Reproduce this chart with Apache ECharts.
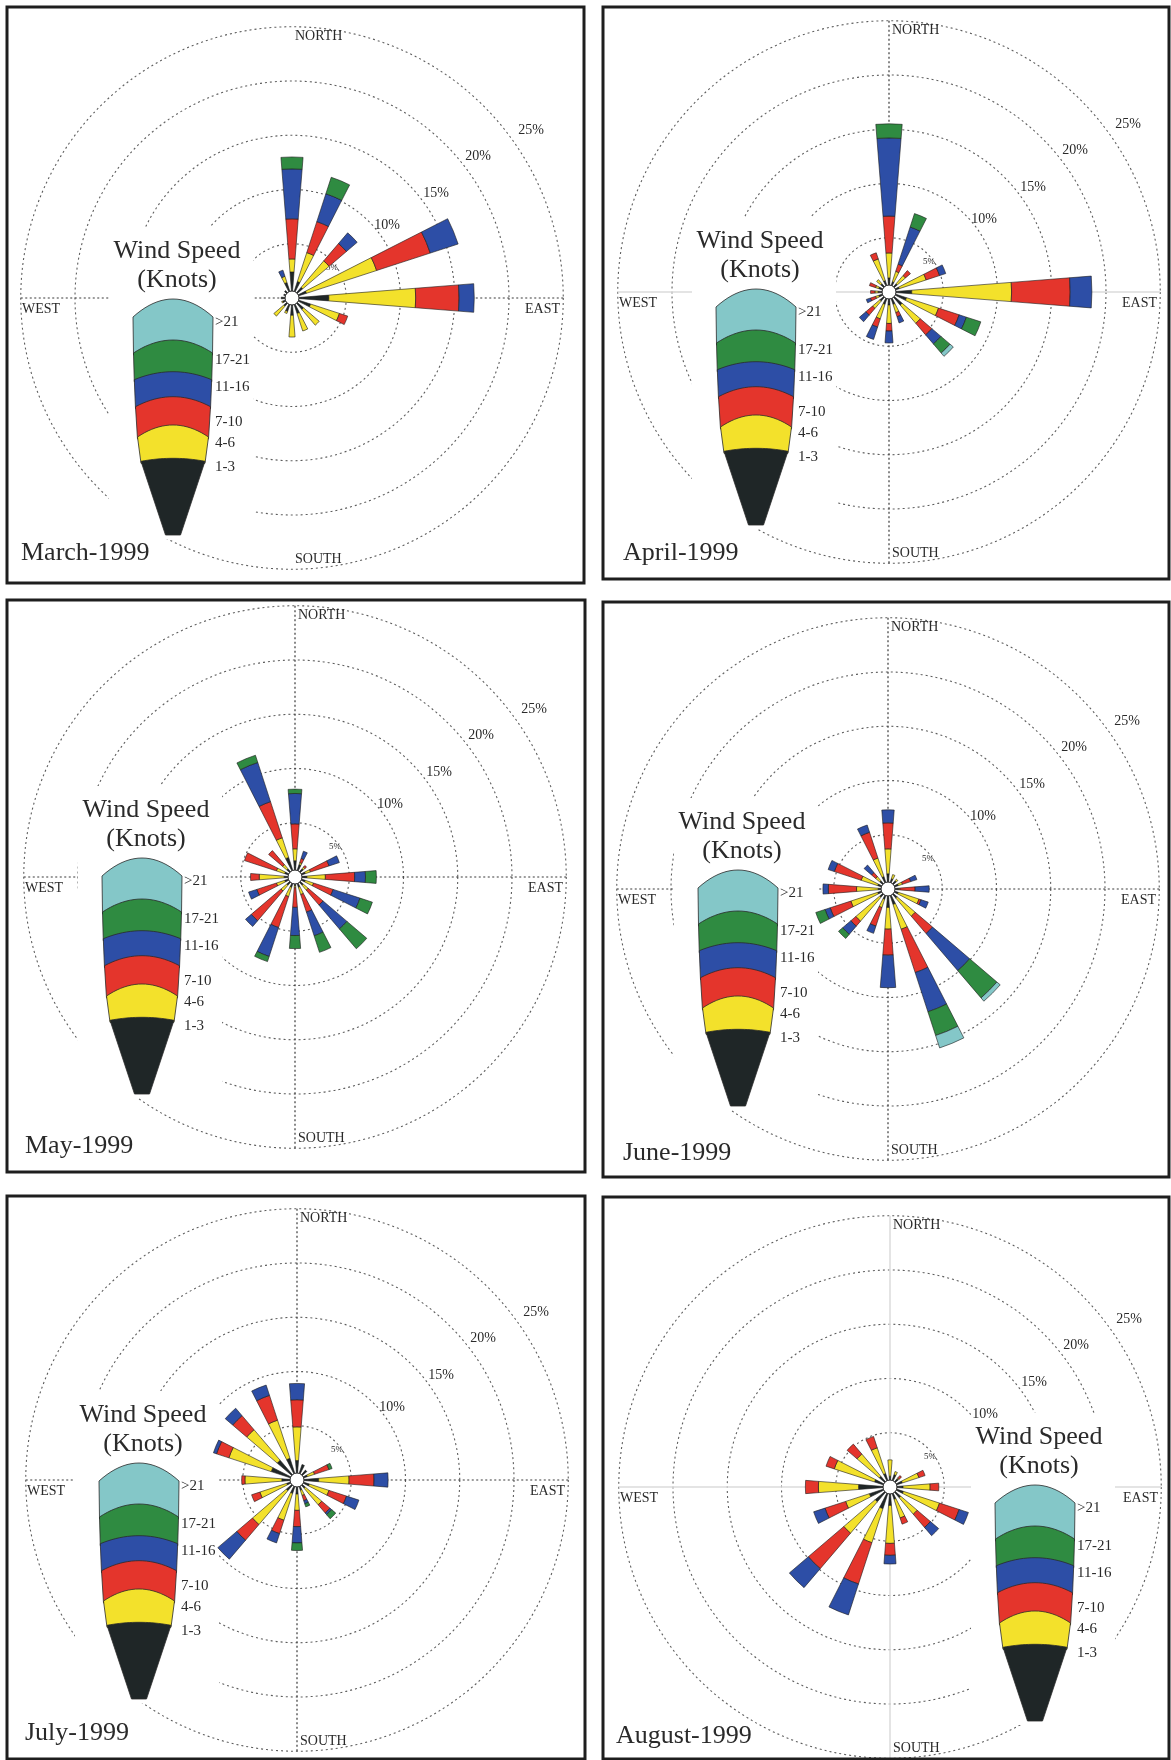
<!DOCTYPE html>
<html>
<head>
<meta charset="utf-8">
<script src="https://cdn.jsdelivr.net/npm/echarts@6/dist/echarts.min.js"></script>
<style>
  html, body { margin: 0; padding: 0; background: #fff; }
  #chart { width: 1171px; height: 1760px; }
</style>
</head>
<body>
<div id="chart"></div>
<script>
// Sixteen compass sectors, clockwise from north
const directions = ['N','NNE','NE','ENE','E','ESE','SE','SSE','S','SSW','SW','WSW','W','WNW','NW','NNW'];
// Wind speed classes in knots (innermost first)
const speedClasses = ['1-3', '4-6', '7-10', '11-16', '17-21', '>21'];
const ringValues = [5, 10, 15, 20, 25];
const ringLabels = ['5%', '10%', '15%', '20%', '25%'];
const monthTitles = ['March-1999', 'April-1999', 'May-1999', 'June-1999', 'July-1999', 'August-1999'];

// Frequency (%) per direction, one row per speed class: 1-3, 4-6, 7-10, 11-16, 17-21, >21
const march1999 = [
  [2.4,1.6,1.3,1.4,3.4,1.8,1.4,1.5,1.6,1.3,1.0,0.9,1.0,0.8,0.9,1.5],
  [1.2,2.8,3.2,6.8,8.0,2.8,1.9,1.7,2.0,0.2,1.2,0.1,0,0,0,0.6],
  [3.7,3.0,2.1,5.2,4.0,0.8,0,0,0,0,0,0,0,0,0,0],
  [4.6,2.7,1.3,2.7,1.4,0,0,0,0,0,0,0,0,0,0,0.6],
  [1.1,1.6,0,0,0,0,0,0,0,0,0,0,0,0,0,0],
  [0,0,0,0,0,0,0,0,0,0,0,0,0,0,0,0]
];
const april1999 = [
  [1.3,1.0,1.0,1.0,2.1,1.7,1.6,1.2,1.2,1.2,1.1,1.0,1.0,1.0,1.0,1.1],
  [2.3,1.0,1.0,2.6,9.2,3.1,2.2,0.8,1.7,1.4,0.9,0.3,0.3,0.3,0.5,2.1],
  [3.4,0.7,0.6,1.3,5.4,2.0,1.4,0.4,0.7,0.8,0.8,0.5,0.4,0.6,0,0.6],
  [7.2,3.6,0,0.6,2.0,0.7,1.1,0.6,1.1,1.2,0.8,0.4,0,0,0,0],
  [1.3,1.3,0,0,0,1.4,1.1,0,0,0,0,0,0,0,0,0],
  [0,0,0,0,0,0,0.4,0,0,0,0,0,0,0,0,0]
];
const may1999 = [
  [1.5,1.2,1.0,1.0,1.1,1.0,1.0,1.0,0.8,1.0,1.0,1.0,1.0,1.0,1.0,1.9],
  [1.1,0.2,0.2,0.5,1.7,0.8,0.6,0.7,0.2,0.9,0.7,0.8,2.3,0.8,0.5,1.9],
  [2.3,0.4,0.2,1.8,2.7,1.9,1.8,1.7,1.8,3.0,3.6,1.9,0.8,3.1,1.7,3.5],
  [2.8,0.7,0,1.0,1.0,2.6,2.9,2.3,2.6,2.8,0.7,0.8,0,0,0,3.8],
  [0.4,0,0,0,1.0,1.2,2.4,1.6,1.2,0.5,0,0,0,0,0,0.7],
  [0,0,0,0,0,0,0,0,0,0,0,0,0,0,0,0]
];
const june1999 = [
  [1.4,1.0,1.0,1.0,1.0,1.0,1.1,1.5,1.7,1.0,1.0,1.0,0.9,1.0,1.0,1.2],
  [2.3,0.4,0.2,0.4,0.1,2.0,2.2,2.4,2.0,0.8,2.9,2.6,2.0,1.6,0.5,1.8],
  [2.4,0,0,0.8,1.4,0.2,2.1,4.2,2.4,1.8,0.6,2.0,2.6,2.6,0.5,2.5],
  [1.2,0,0,0.6,1.3,0.7,4.5,3.8,3.0,0.7,1.0,0.5,0.5,0.6,0.9,0.7],
  [0,0,0,0,0,0,3.3,2.3,0,0,0.5,0.9,0,0,0,0],
  [0,0,0,0,0,0,0.4,1.2,0,0,0,0,0,0,0,0]
];
const july1999 = [
  [1.8,1.5,1.2,1.0,2.0,1.2,1.0,1.0,1.3,1.3,1.3,1.0,1.4,2.5,2.4,2.1],
  [3.1,0,0,0.7,2.8,1.9,2.0,0.5,1.5,2.6,4.1,2.6,3.4,4.1,3.7,3.7],
  [2.5,0,0,1.4,2.3,1.7,1.0,0.5,1.5,1.3,1.9,0.8,0.3,1.2,1.7,2.4],
  [1.5,0,0,0,1.3,1.2,0.2,0.3,1.5,0.9,2.3,0,0,0.3,0.9,1.0],
  [0,0,0,0.3,0,0,0.5,0.3,0.7,0,0,0,0,0,0,0],
  [0,0,0,0,0,0,0,0,0,0,0,0,0,0,0,0]
];
const august1999 = [
  [1.0,1.2,1.0,1.2,1.2,1.3,1.3,1.2,1.7,2.1,1.8,2.0,2.9,1.5,1.3,1.3],
  [1.5,0.3,0.1,1.6,2.5,3.5,2.0,1.8,3.5,3.3,3.8,2.3,3.7,3.9,2.7,2.5],
  [0,0,0.3,0.6,0.8,1.9,1.6,0.6,1.1,4.0,4.3,2.0,1.2,0.8,1.2,1.1],
  [0,0,0,0,0,0.9,1.0,0,0.8,3.0,2.3,1.1,0,0,0,0],
  [0,0,0,0,0,0,0,0,0,0,0,0,0,0,0,0],
  [0,0,0,0,0,0,0,0,0,0,0,0,0,0,0,0]
];
const monthData = [march1999, april1999, may1999, june1999, july1999, august1999];

// ---- styling -------------------------------------------------------------
const speedColors = ['#1f2627', '#f3e12b', '#e4352c', '#2d4ea6', '#2f8b41', '#84c7c8'];
const SERIF = '"Liberation Serif", "DejaVu Serif", serif';
const PX_PER_PCT = 10.85;            // radial scale of every rose
const ROSE_R = 25 * PX_PER_PCT;      // outer (25 %) ring
const lineStyles = {
  dark:  { color: '#3a3a3a', width: 1.2, type: [2, 2.5] },
  light: { color: '#dcdcdc', width: 1.5, type: 'solid' }
};

// Panel frames, rose centres, legend anchors and month-label anchors
const panels = [
  { box: [7, 7, 577, 576],     c: [292, 298],  leg: [173, 299],  lab: [21, 553],   v: null,    h: 'dark'  },
  { box: [603, 7, 566, 572],   c: [889, 292],  leg: [756, 289],  lab: [623, 553],  v: 'dark',  h: 'light' },
  { box: [7, 600, 578, 572],   c: [295, 877],  leg: [142, 858],  lab: [25, 1146],  v: 'dark',  h: 'dark'  },
  { box: [603, 602, 566, 575], c: [888, 889],  leg: [738, 870],  lab: [623, 1153], v: 'dark',  h: 'dark'  },
  { box: [7, 1196, 578, 563],  c: [297, 1480], leg: [139, 1463], lab: [25, 1733],  v: 'dark',  h: 'dark'  },
  { box: [603, 1197, 566, 562],c: [890, 1487], leg: [1035, 1485],lab: [616, 1736], v: 'light', h: 'light' }
];

const polar = [], angleAxis = [], radiusAxis = [], series = [], graphic = [];
const hidden = { axisLine: { show: false }, axisTick: { show: false }, axisLabel: { show: false }, splitArea: { show: false } };

function text(x, y, str, size, align, extra) {
  return Object.assign({
    type: 'text', x: x, y: y, z: 3, silent: true,
    style: { text: str, font: size + 'px ' + SERIF, fill: '#2a2a2a',
             align: align, textAlign: align, verticalAlign: 'middle', textVerticalAlign: 'middle' }
  }, extra || {});
}

// Legend key: a tapered stack of speed bands with bowed tops
function legendKey(cx, top) {
  // [centre offset of a band's top edge, bow depth, half width]
  const edges = [[0, 18, 40], [41, 13, 39.5], [72.7, 8, 38.7], [97.7, 10, 37.5], [126, 12, 35.5], [159.3, 3, 32]];
  const arc = (e) => {
    const pts = [];
    for (let i = 0; i <= 20; i++) {
      const t = -1 + i / 10;
      pts.push([cx + t * e[2], top + e[0] + e[1] * t * t]);
    }
    return pts;
  };
  const els = [];
  const order = [5, 4, 3, 2, 1];       // >21 at the top down to 4-6
  order.forEach((cls, k) => {
    const e = edges[k], n = edges[k + 1];
    const pts = arc(e);
    pts.push([cx + n[2], top + n[0] + n[1] + 2]);
    pts.push([cx - n[2], top + n[0] + n[1] + 2]);
    els.push({ type: 'polygon', z: 4 + k * 0.01, silent: true, shape: { points: pts },
               style: { fill: speedColors[cls], stroke: '#2a2a2a', lineWidth: 0.8 } });
  });
  const pts = arc(edges[5]);
  pts.push([cx + 7.5, top + 236]);
  pts.push([cx - 7.5, top + 236]);
  els.push({ type: 'polygon', z: 4.1, silent: true, shape: { points: pts },
             style: { fill: speedColors[0], stroke: '#2a2a2a', lineWidth: 0.8 } });
  // class labels, >21 first
  const labelDy = [23, 61, 88, 123, 144, 168];
  for (let k = 0; k < 6; k++) {
    els.push(text(cx + 42, top + labelDy[k], speedClasses[5 - k], 15, 'left', { z: 5 }));
  }
  els.push(text(cx + 4, top - 48, 'Wind Speed', 26, 'center', { z: 5 }));
  els.push(text(cx + 4, top - 19, '(Knots)', 26, 'center', { z: 5 }));
  return els;
}

panels.forEach((p, i) => {
  const base = i * 3;
  const [cx, cy] = p.c;
  for (let k = 0; k < 3; k++) polar.push({ center: [cx, cy], radius: ROSE_R });

  // rose sectors and percentage rings
  angleAxis.push(Object.assign({ polarIndex: base, type: 'category', data: directions,
    startAngle: 101.25, clockwise: true, boundaryGap: true, z: 0, splitLine: { show: false } }, hidden));
  radiusAxis.push(Object.assign({ polarIndex: base, type: 'value', min: 0, max: 25, interval: 5, z: 0,
    splitLine: { show: true, lineStyle: { color: '#5e5e5e', width: 1.1, type: [2, 3] } } }, hidden));

  // north-south and east-west guide lines
  [[base + 1, 90, p.v], [base + 2, 0, p.h]].forEach(([idx, start, style]) => {
    angleAxis.push(Object.assign({ polarIndex: idx, type: 'value', min: 0, max: 360, interval: 180,
      startAngle: start, z: 0,
      splitLine: { show: !!style, lineStyle: style ? lineStyles[style] : {} } }, hidden));
    radiusAxis.push(Object.assign({ polarIndex: idx, type: 'value', min: 0, max: 25, z: 0,
      splitLine: { show: false } }, hidden));
  });

  const rows = monthData[i];
  rows.forEach((row, cls) => {
    series.push({
      type: 'bar', coordinateSystem: 'polar', polarIndex: base, stack: 'rose' + i,
      name: speedClasses[cls], barWidth: '40%', silent: true, z: 2,
      data: row.map(v => (v > 0 ? v : '-')),
      itemStyle: { color: speedColors[cls], borderColor: '#1b1b1b', borderWidth: 0.6 }
    });
  });

  // calm centre
  series.push({
    type: 'pie', center: [cx, cy], radius: [0, 7], silent: true, z: 6,
    label: { show: false }, labelLine: { show: false }, emphasis: { disabled: true },
    data: [{ value: 1 }], itemStyle: { color: '#fff', borderColor: '#222', borderWidth: 1 }
  });

  // blank area behind the legend
  const [lx, ly] = p.leg;
  graphic.push({ type: 'rect', z: 1, silent: true,
    shape: { x: lx - 64, y: ly - 72, width: 144, height: 312 }, style: { fill: '#fff' } });

  // ring percentages along the north-east diagonal
  const ringOffsets = [[40, -30], [95, -73], [144, -105], [186, -142], [239, -168]];
  ringLabels.forEach((t, k) => {
    graphic.push(text(cx + ringOffsets[k][0], cy + ringOffsets[k][1], t, k === 0 ? 9 : 14, 'center', { z: 1.5 }));
  });

  // compass words
  graphic.push(text(cx + 3, cy - 262, 'NORTH', 14, 'left', { z: 1.5 }));
  graphic.push(text(cx + 3, cy + 261, 'SOUTH', 14, 'left', { z: 1.5 }));
  graphic.push(text(cx - 270, cy + 11, 'WEST', 14, 'left', { z: 1.5 }));
  graphic.push(text(cx + 268, cy + 11, 'EAST', 14, 'right', { z: 1.5 }));

  legendKey(lx, ly).forEach(e => graphic.push(e));

  graphic.push(text(p.lab[0], p.lab[1], monthTitles[i], 26, 'left', { z: 5 }));
  graphic.push({ type: 'rect', z: 10, silent: true,
    shape: { x: p.box[0], y: p.box[1], width: p.box[2], height: p.box[3] },
    style: { fill: 'none', stroke: '#1e1e1e', lineWidth: 3 } });
});

const chart = echarts.init(document.getElementById('chart'), null, { renderer: 'canvas', width: 1171, height: 1760 });
chart.setOption({
  animation: false,
  backgroundColor: '#fff',
  polar: polar,
  angleAxis: angleAxis,
  radiusAxis: radiusAxis,
  series: series,
  graphic: graphic
});
</script>
</body>
</html>
